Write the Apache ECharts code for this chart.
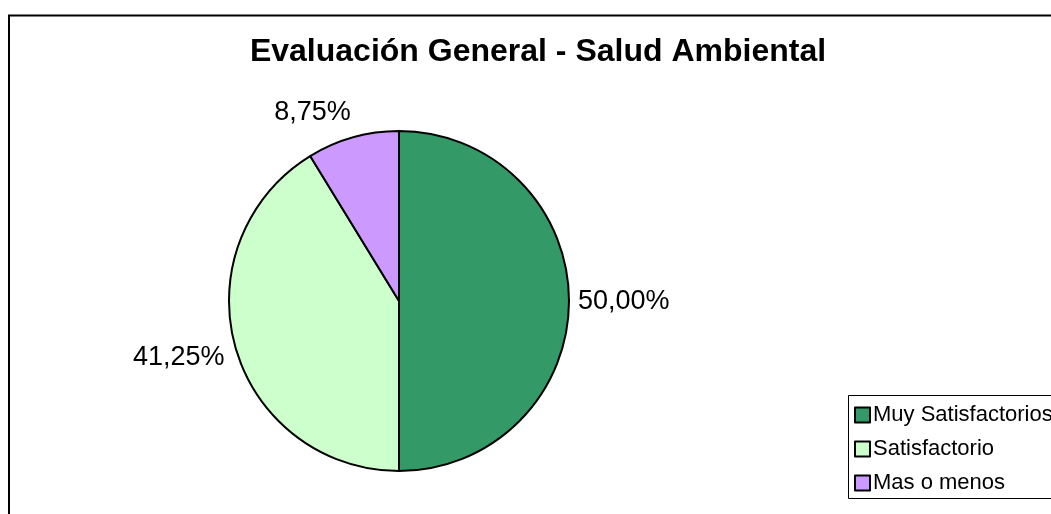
<!DOCTYPE html>
<html>
<head>
<meta charset="utf-8">
<style>
  html, body { margin: 0; padding: 0; background: #fff; }
  #chart { width: 1051px; height: 514px; }
</style>
<script src="https://cdn.jsdelivr.net/npm/echarts@6/dist/echarts.min.js"></script>
</head>
<body>
<div id="chart"></div>
<script>
const titleText = "Evaluación General - Salud Ambiental"
const categories = ["Muy Satisfactorios", "Satisfactorio", "Mas o menos"]
const values = [50.0, 41.25, 8.75]
const sliceColors = ["#339966", "#CCFFCC", "#CC99FF"]

const fontFamily = "'Liberation Sans', Arial, sans-serif"

const chart = echarts.init(document.getElementById("chart"))

// etiquetas con coma decimal, como en el original
const fmt = (v) => v.toFixed(2).replace(".", ",") + "%"

// pequeños ajustes de posición de etiquetas (en px)
const labelShift = [
  { dx: -4, dy: 1 },
  { dx: 2, dy: 9 },
  { dx: 8, dy: -21 },
]

const option = {
  animation: false,
  backgroundColor: "#fff",
  graphic: [
    {
      // marco del gráfico
      type: "rect",
      shape: { x: 9, y: 15.5, width: 1200, height: 700 },
      style: { fill: "none", stroke: "#000", lineWidth: 2 },
      silent: true,
    },
    {
      // marco de la leyenda (sale por la derecha, como en el original)
      type: "rect",
      shape: { x: 848.5, y: 395.5, width: 300, height: 103 },
      style: { fill: "none", stroke: "#000", lineWidth: 1 },
      silent: true,
    },
  ],
  title: {
    text: titleText,
    left: 538,
    top: 36,
    textAlign: "center",
    padding: 0,
    textStyle: {
      fontFamily,
      fontSize: 32,
      fontWeight: "bold",
      color: "#000",
    },
  },
  legend: {
    orient: "vertical",
    left: 848,
    top: 395,
    padding: [9, 0, 6, 6],
    itemGap: 12,
    itemWidth: 15,
    itemHeight: 15,
    icon: "rect",
    itemStyle: { borderColor: "#000", borderWidth: 2 },
    data: categories,
    textStyle: {
      fontFamily,
      fontSize: 22,
      color: "#000",
      padding: [0, 0, 0, -2],
    },
  },
  series: [
    {
      type: "pie",
      center: [399, 301],
      radius: 170,
      startAngle: 90,
      clockwise: true,
      avoidLabelOverlap: false,
      itemStyle: { borderColor: "#000", borderWidth: 2 },
      label: {
        show: true,
        position: "outside",
        fontFamily,
        fontSize: 27,
        color: "#000",
        formatter: (p) => fmt(p.value),
      },
      labelLine: { show: false, length: 4, length2: 4 },
      labelLayout: (params) => labelShift[params.dataIndex],
      emphasis: { disabled: true },
      data: categories.map((name, i) => ({
        name,
        value: values[i],
        itemStyle: { color: sliceColors[i] },
      })),
    },
  ],
}

chart.setOption(option)
</script>
</body>
</html>
